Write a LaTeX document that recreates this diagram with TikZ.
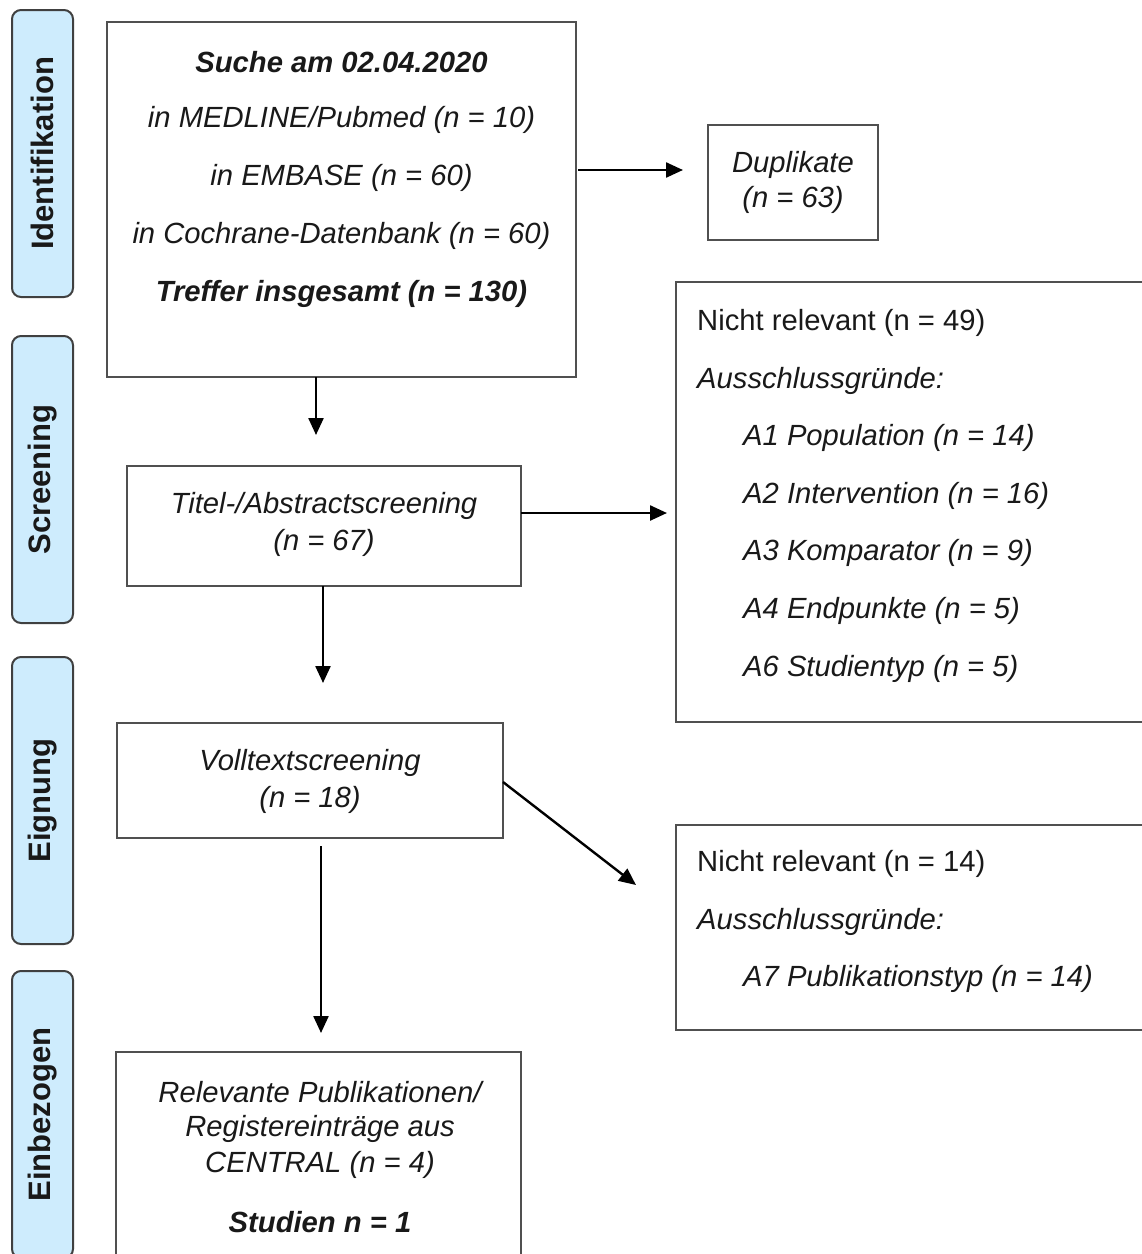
\documentclass[tikz,border=0pt]{standalone}
\usepackage{fontspec}
\setmainfont{Liberation Sans}
\usetikzlibrary{arrows.meta}
\definecolor{phasefill}{RGB}{206,236,253}
\definecolor{boxline}{RGB}{80,80,80}
\definecolor{txt}{RGB}{25,25,25}
\begin{document}
\begin{tikzpicture}[x=1pt,y=-1pt,
  phase/.style={draw=boxline!80!black,line width=2pt,fill=phasefill,rounded corners=9pt,minimum width=61pt,minimum height=287pt,inner sep=0pt},
  phasetxt/.style={rotate=90,font=\fontsize{31}{36}\selectfont\bfseries,text=txt,inner sep=0pt},
  flowbox/.style={draw=boxline,line width=2pt,fill=white,inner sep=0pt},
  ltxt/.style={font=\fontsize{29.2}{34}\selectfont\itshape,text=txt,inner sep=0pt},
  btxt/.style={font=\fontsize{29.2}{34}\selectfont\bfseries\itshape,text=txt,inner sep=0pt},
  utxt/.style={font=\fontsize{29.2}{34}\selectfont,text=txt,inner sep=0pt},
  arr/.style={line width=2.4pt,-{Triangle[length=17pt,width=15pt]}}
]
\useasboundingbox (0,0) rectangle (1142,1254);

% phase labels
\node[phase] (p1) at (42.5,153.5) {};
\node[phasetxt] (p1t) at (p1.center) {Identifikation};
\node[phase] (p2) at (42.5,479.5) {};
\node[phasetxt] (p2t) at (p2.center) {Screening};
\node[phase] (p3) at (42.5,800.5) {};
\node[phasetxt] (p3t) at (p3.center) {Eignung};
\node[phase] (p4) at (42.5,1114.5) {};
\node[phasetxt] (p4t) at (p4.center) {Einbezogen};

% boxes
\node[flowbox,minimum width=469pt,minimum height=355pt] (b1) at (341.5,199.5) {};
\node[flowbox,minimum width=170pt,minimum height=115pt] (dup) at (793,182.5) {};
\node[flowbox,minimum width=394pt,minimum height=120pt] (tit) at (324,526) {};
\node[flowbox,minimum width=490pt,minimum height=440pt] (r1) at (921,502) {};
\node[flowbox,minimum width=386pt,minimum height=115pt] (vt) at (310,780.5) {};
\node[flowbox,minimum width=490pt,minimum height=205pt] (r2) at (921,927.5) {};
\node[flowbox,minimum width=405pt,minimum height=240pt] (fin) at (318.5,1172) {};

% texts box 1
\node[btxt] (t11) at (341.5,62) {Suche am 02.04.2020};
\node[ltxt] (t12) at (341.5,120) {in MEDLINE/Pubmed (n = 10)};
\node[ltxt] (t13) at (341.5,178) {in EMBASE (n = 60)};
\node[ltxt] (t14) at (341.5,236) {in Cochrane-Datenbank (n = 60)};
\node[btxt] (t15) at (341.5,294) {Treffer insgesamt (n = 130)};

% duplicates
\node[ltxt] (d1) at (793,165) {Duplikate};
\node[ltxt] (d2) at (793,200) {(n = 63)};

% title screening
\node[ltxt] (s1) at (324,506) {Titel-/Abstractscreening};
\node[ltxt] (s2) at (324,543) {(n = 67)};

% right box 1
\node[utxt,anchor=west] (r11) at (697,323) {Nicht relevant (n = 49)};
\node[ltxt,anchor=west] (r12) at (697,381) {Ausschlussgründe:};
\node[ltxt,anchor=west] (r13) at (743,438) {A1 Population (n = 14)};
\node[ltxt,anchor=west] (r14) at (743,496) {A2 Intervention (n = 16)};
\node[ltxt,anchor=west] (r15) at (743,553) {A3 Komparator (n = 9)};
\node[ltxt,anchor=west] (r16) at (743,611) {A4 Endpunkte (n = 5)};
\node[ltxt,anchor=west] (r17) at (743,669) {A6 Studientyp (n = 5)};

% fulltext
\node[ltxt] (v1) at (310,763) {Volltextscreening};
\node[ltxt] (v2) at (310,800) {(n = 18)};

% right box 2
\node[utxt,anchor=west] (r21) at (697,864) {Nicht relevant (n = 14)};
\node[ltxt,anchor=west] (r22) at (697,922) {Ausschlussgründe:};
\node[ltxt,anchor=west] (r23) at (743,979) {A7 Publikationstyp (n = 14)};

% final
\node[ltxt] (f1) at (320,1092) {Relevante Publikationen/};
\node[ltxt] (f2) at (320,1129) {Registereinträge aus};
\node[ltxt] (f3) at (320,1165) {CENTRAL (n = 4)};
\node[btxt] (f4) at (320,1222) {Studien n = 1};

% connectors
\coordinate (a1s) at (578,170);
\coordinate (a1e) at (683,170);
\draw[arr] (a1s) -- (a1e);
\coordinate (a2s) at (316,377);
\coordinate (a2e) at (316,435);
\draw[arr] (a2s) -- (a2e);
\coordinate (a3s) at (521,513);
\coordinate (a3e) at (667,513);
\draw[arr] (a3s) -- (a3e);
\coordinate (a4s) at (323,586);
\coordinate (a4e) at (323,683);
\draw[arr] (a4s) -- (a4e);
\coordinate (a5s) at (503,782);
\coordinate (a5e) at (636,885);
\draw[arr] (a5s) -- (a5e);
\coordinate (a6s) at (321,846);
\coordinate (a6e) at (321,1033);
\draw[arr] (a6s) -- (a6e);
\end{tikzpicture}
\end{document}
